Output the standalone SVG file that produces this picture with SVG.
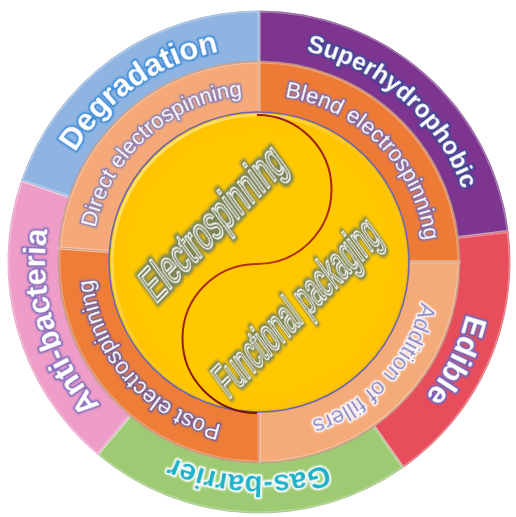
<svg xmlns="http://www.w3.org/2000/svg" width="516" height="517" viewBox="0 0 516 517">
  <style>
    .seg { stroke-linejoin: round; }
    .bevel { fill: none; stroke: #ffffff; stroke-opacity: 0.35; stroke-width: 3; }
    .lbl-outer { font-family: "Liberation Sans", Arial, sans-serif; font-weight: bold; text-anchor: middle; paint-order: stroke fill; stroke-width: 3; stroke-linejoin: round; }
    .lbl-mid { font-family: "Liberation Sans", Arial, sans-serif; text-anchor: middle; paint-order: stroke fill; stroke-width: 2.6; stroke-linejoin: round; }
    .lbl-core { font-family: "Liberation Sans", Arial, sans-serif; font-size: 48px; text-anchor: middle; fill: #7b8456; stroke: #ffffff; stroke-width: 1.4; }
  </style>
  <defs>
    <!-- baseline arcs, centred on the top of the circle; each label rotates its own copy -->
    <path id="arc214" d="M-214,0 A214,214 0 0 1 214,0"/>
    <path id="arc216" d="M-216,0 A216,216 0 0 1 216,0"/>
    <path id="arc167" d="M-167,0 A167,167 0 0 1 167,0"/>

    <filter id="soft" x="-10%" y="-20%" width="120%" height="140%">
      <feGaussianBlur in="SourceGraphic" stdDeviation="1.1" result="b"/>
      <feMerge><feMergeNode in="b"/><feMergeNode in="SourceGraphic"/></feMerge>
    </filter>
    <filter id="olive-halo" x="-20%" y="-40%" width="140%" height="180%">
      <feMorphology in="SourceAlpha" operator="dilate" radius="2.6" result="d"/>
      <feGaussianBlur in="d" stdDeviation="1.8" result="b"/>
      <feFlood flood-color="#7b8456"/>
      <feComposite in2="b" operator="in" result="halo"/>
      <feMerge><feMergeNode in="halo"/><feMergeNode in="SourceGraphic"/></feMerge>
    </filter>

    <radialGradient id="core-fill" cx="259" cy="262" r="150" gradientUnits="userSpaceOnUse">
      <stop offset="0.85" stop-color="#ffc800"/>
      <stop offset="0.97" stop-color="#ffc300"/>
      <stop offset="1" stop-color="#f2b400"/>
    </radialGradient>
    <linearGradient id="core-rim" x1="120" y1="120" x2="400" y2="400" gradientUnits="userSpaceOnUse">
      <stop offset="0" stop-color="#fff3a0" stop-opacity="0.9"/>
      <stop offset="0.5" stop-color="#ffe680" stop-opacity="0.2"/>
      <stop offset="1" stop-color="#ffe680" stop-opacity="0"/>
    </linearGradient>
    <linearGradient id="curve-stroke" x1="0" y1="113" x2="0" y2="411" gradientUnits="userSpaceOnUse">
      <stop offset="0" stop-color="#9a1c12"/>
      <stop offset="0.5" stop-color="#b0320f"/>
      <stop offset="1" stop-color="#7a1410"/>
    </linearGradient>
  </defs>

  <!-- outer ring: properties -->
  <g id="outer-ring">
    <g id="superhydrophobic">
      <path class="seg" d="M259,11 A251,251 0 0 1 508.13,231.41 L456.52,237.75 A199,199 0 0 0 259,63 Z" fill="#7d3590" stroke="#5e2470" stroke-width="1"/>
      <path class="bevel" d="M259,11 A251,251 0 0 1 508.13,231.41 L456.52,237.75 A199,199 0 0 0 259,63 Z"/>
      <g transform="translate(259,262) rotate(41.5)">
        <text class="lbl-outer" font-size="24.5" fill="#ffffff" stroke="#2e3590" filter="url(#soft)"><textPath href="#arc216" startOffset="50%">Superhydrophobic</textPath></text>
      </g>
    </g>
    <g id="edible">
      <path class="seg" d="M508.13,231.41 A251,251 0 0 1 402.97,467.61 L373.14,425.01 A199,199 0 0 0 456.52,237.75 Z" fill="#e84d5b" stroke="#c23444" stroke-width="1"/>
      <path class="bevel" d="M508.13,231.41 A251,251 0 0 1 402.97,467.61 L373.14,425.01 A199,199 0 0 0 456.52,237.75 Z"/>
      <g transform="translate(259,262) rotate(116.5)">
        <text class="lbl-outer" font-size="31" fill="#ffffff" stroke="#6c58b4" filter="url(#soft)"><textPath href="#arc214" startOffset="50%">Edible</textPath></text>
      </g>
    </g>
    <g id="gas-barrier">
      <path class="seg" d="M402.97,467.61 A251,251 0 0 1 97.66,454.28 L131.08,414.44 A199,199 0 0 0 373.14,425.01 Z" fill="#9dca72" stroke="#7aa94f" stroke-width="1"/>
      <path class="bevel" d="M402.97,467.61 A251,251 0 0 1 97.66,454.28 L131.08,414.44 A199,199 0 0 0 373.14,425.01 Z"/>
      <g transform="translate(259,262) rotate(182.7)">
        <text class="lbl-outer" font-size="29.5" fill="#1eb2c8" stroke="#ffffff" filter="url(#soft)"><textPath href="#arc214" startOffset="50%">Gas-barrier</textPath></text>
      </g>
    </g>
    <g id="anti-bacteria">
      <path class="seg" d="M97.66,454.28 A251,251 0 0 1 21.67,180.28 L70.84,197.21 A199,199 0 0 0 131.08,414.44 Z" fill="#ee9cc8" stroke="#d77aaa" stroke-width="1"/>
      <path class="bevel" d="M97.66,454.28 A251,251 0 0 1 21.67,180.28 L70.84,197.21 A199,199 0 0 0 131.08,414.44 Z"/>
      <g transform="translate(259,262) rotate(253.3)">
        <text class="lbl-outer" font-size="31" fill="#ffffff" stroke="#8466bb" filter="url(#soft)"><textPath href="#arc214" startOffset="50%">Anti-bacteria</textPath></text>
      </g>
    </g>
    <g id="degradation">
      <path class="seg" d="M21.67,180.28 A251,251 0 0 1 259,11 L259,63 A199,199 0 0 0 70.84,197.21 Z" fill="#8fb4e2" stroke="#6f95c8" stroke-width="1"/>
      <path class="bevel" d="M21.67,180.28 A251,251 0 0 1 259,11 L259,63 A199,199 0 0 0 70.84,197.21 Z"/>
      <g transform="translate(259,262) rotate(-35)">
        <text class="lbl-outer" font-size="31" fill="#ffffff" stroke="#2f88d8" filter="url(#soft)"><textPath href="#arc214" startOffset="50%">Degradation</textPath></text>
      </g>
    </g>
  </g>

  <!-- shadow rim where the method ring sits on the outer ring -->
  <circle cx="259" cy="262" r="200.5" fill="none" stroke="#8a4a2a" stroke-opacity="0.55" stroke-width="2"/>

  <!-- middle ring: processing routes -->
  <g id="method-ring">
    <g id="blend-electrospinning">
      <path class="seg" d="M259,62 A200,200 0 0 1 459,262 L408,262 A149,149 0 0 0 259,113 Z" fill="#ee7b35" stroke="#b8551f" stroke-width="1"/>
      <path class="bevel" d="M259,62 A200,200 0 0 1 459,262 L408,262 A149,149 0 0 0 259,113 Z"/>
      <g transform="translate(259,262) rotate(45.8)">
        <text class="lbl-mid" font-size="22.5" fill="#ffffff" stroke="#7a5a9e" filter="url(#soft)"><textPath href="#arc167" startOffset="50%">Blend electrospinning</textPath></text>
      </g>
    </g>
    <g id="addition-of-fillers">
      <path class="seg" d="M459,262 A200,200 0 0 1 259,462 L259,411 A149,149 0 0 0 408,262 Z" fill="#f5aa7a" stroke="#b86a3c" stroke-width="1"/>
      <path class="bevel" d="M459,262 A200,200 0 0 1 259,462 L259,411 A149,149 0 0 0 408,262 Z"/>
      <g transform="translate(259,262) rotate(132.8)">
        <text class="lbl-mid" font-size="23" fill="#8e84bf" stroke="#ffffff" filter="url(#soft)"><textPath href="#arc167" startOffset="50%">Addition of fillers</textPath></text>
      </g>
    </g>
    <g id="post-electrospinning">
      <path class="seg" d="M259,462 A200,200 0 0 1 59.49,248.05 L110.36,251.61 A149,149 0 0 0 259,411 Z" fill="#ee7d38" stroke="#b8551f" stroke-width="1"/>
      <path class="bevel" d="M259,462 A200,200 0 0 1 59.49,248.05 L110.36,251.61 A149,149 0 0 0 259,411 Z"/>
      <g transform="translate(259,262) rotate(228.5)">
        <text class="lbl-mid" font-size="23" fill="#ffffff" stroke="#6a4c8c" filter="url(#soft)"><textPath href="#arc167" startOffset="50%">Post electrospinning</textPath></text>
      </g>
    </g>
    <g id="direct-electrospinning">
      <path class="seg" d="M59.49,248.05 A200,200 0 0 1 259,62 L259,113 A149,149 0 0 0 110.36,251.61 Z" fill="#f5a979" stroke="#b86a3c" stroke-width="1"/>
      <path class="bevel" d="M59.49,248.05 A200,200 0 0 1 259,62 L259,113 A149,149 0 0 0 110.36,251.61 Z"/>
      <g transform="translate(259,262) rotate(-42)">
        <text class="lbl-mid" font-size="22" fill="#ffffff" stroke="#8a76a8" filter="url(#soft)"><textPath href="#arc167" startOffset="50%">Direct electrospinning</textPath></text>
      </g>
    </g>
  </g>

  <!-- core disc -->
  <g id="core">
    <circle cx="259" cy="262" r="150" fill="url(#core-fill)" stroke="#6d67a8" stroke-width="1.6"/>
    <circle cx="259" cy="262" r="147" fill="none" stroke="url(#core-rim)" stroke-width="3"/>
  </g>

  <!-- divider between the two halves of the core -->
  <g id="connectors">
    <path d="M257,115 A74.5,74.5 0 0 1 257,264 A74.5,74.5 0 0 0 257,413" fill="none" stroke="url(#curve-stroke)" stroke-width="2"/>
  </g>

  <g id="electrospinning" transform="translate(212,222) rotate(-46) skewX(-10)">
    <text class="lbl-core" transform="scale(0.58,1)" y="17" filter="url(#olive-halo)">Electrospinning</text>
  </g>
  <g id="functional-packaging" transform="translate(296,306) rotate(-46) skewX(-10)">
    <text class="lbl-core" transform="scale(0.49,1)" y="17" filter="url(#olive-halo)">Functional packaging</text>
  </g>
</svg>
